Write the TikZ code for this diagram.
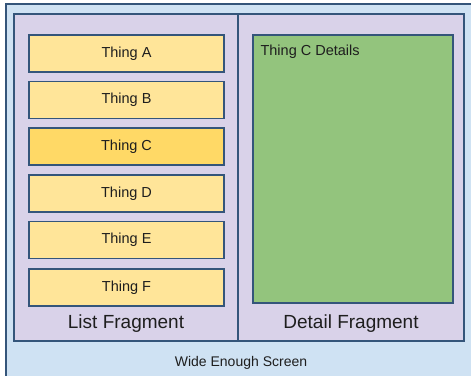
\documentclass[tikz,border=0pt]{standalone}
\usepackage{fontspec}
\setmainfont{Liberation Sans}
\definecolor{edge}{HTML}{34557A}
\definecolor{screenblue}{HTML}{CFE2F3}
\definecolor{fraglilac}{HTML}{D9D2E9}
\definecolor{itemyellow}{HTML}{FFE599}
\definecolor{pickyellow}{HTML}{FFD966}
\definecolor{detailgreen}{HTML}{93C47D}
\definecolor{ink}{HTML}{1E1E1E}
\tikzset{
  box/.style={draw=edge, line width=1.3pt, inner sep=0pt},
  fragbox/.style={box, fill=fraglilac, minimum height=327pt},
  thingbox/.style={box, minimum width=195pt, minimum height=37pt,
    font=\fontsize{14.5}{16}\selectfont, text=ink},
  caption/.style={font=\fontsize{19}{21}\selectfont, text=ink},
}
\begin{document}
\begin{tikzpicture}[x=1pt,y=-1pt]
            \useasboundingbox (0,0) rectangle (471,375);
            \clip (0,0) rectangle (471,375);
            \draw[edge, line width=1.3pt, fill=screenblue] (6,4) rectangle (490,395);
            \node[fragbox, minimum width=224pt] (list) at (126,177.5) {};
            \node[fragbox, minimum width=226pt] (detail) at (351,177.5) {};
            \foreach \name/\y/\shade in {A/53.5/itemyellow, B/100/itemyellow, C/146.5/pickyellow,
                D/193.5/itemyellow, E/240/itemyellow, F/287.5/itemyellow}
              \node[thingbox, fill=\shade] (thing\name) at (126.5,\y) {Thing \name};
            \node[box, fill=detailgreen, minimum width=200pt, minimum height=268pt] (info) at (353,169) {};
            \node[anchor=north west, font=\fontsize{14.5}{16}\selectfont, text=ink, inner sep=0pt] (infotext) at ([xshift=8pt,yshift=-10pt]info.north west) {Thing C Details};
            \node[caption] (listlabel) at (126,324) {List Fragment};
            \node[caption] (detaillabel) at (351,324) {Detail Fragment};
            \node[font=\fontsize{14}{16}\selectfont, text=ink] (screenlabel) at (241,362.5) {Wide Enough Screen};
        \end{tikzpicture}
\end{document}
